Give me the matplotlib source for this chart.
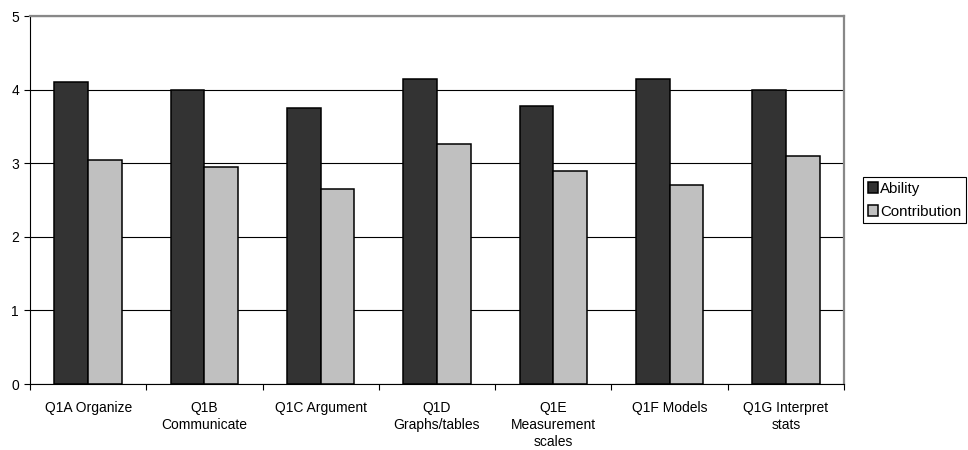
import matplotlib
matplotlib.use("Agg")
import matplotlib.pyplot as plt
import numpy as np

plt.rcParams['font.family'] = ['Liberation Sans', 'DejaVu Sans']

categories = ["Q1A Organize", "Q1B\nCommunicate", "Q1C Argument", "Q1D\nGraphs/tables",
              "Q1E\nMeasurement\nscales", "Q1F Models", "Q1G Interpret\nstats"]
ability = [4.1, 4.0, 3.75, 4.15, 3.78, 4.15, 4.0]
contribution = [3.05, 2.95, 2.65, 3.26, 2.89, 2.7, 3.1]
series_names = ["Ability", "Contribution"]
y_ticks = [0, 1, 2, 3, 4, 5]

fig = plt.figure(figsize=(9.68, 4.5), dpi=100)
ax = fig.add_axes([30/968, 1-384/450, (844-30)/968, (384-16)/450])

x = np.arange(len(categories))
w = 0.29
ax.bar(x - w/2, ability, w, color="#333333", edgecolor="black", linewidth=1.1, label=series_names[0], zorder=3)
ax.bar(x + w/2, contribution, w, color="#C0C0C0", edgecolor="black", linewidth=1.1, label=series_names[1], zorder=3)

ax.set_xlim(-0.5, len(categories) - 0.5)
ax.set_ylim(0, 5)
ax.set_yticks(y_ticks)
ax.set_yticklabels([str(t) for t in y_ticks], fontsize=10)
ax.yaxis.grid(True, color="black", linewidth=0.8, zorder=0)
ax.tick_params(axis='y', direction='out', length=4, width=0.8, pad=4)

ax.set_xticks(x)
ax.set_xticklabels(categories, fontsize=10, linespacing=1.3)
ax.tick_params(axis='x', length=0, pad=12)
ax.set_xticks(np.arange(len(categories) + 1) - 0.5, minor=True)
ax.tick_params(axis='x', which='minor', direction='out', length=4, width=0.8)

for s in ['top', 'right']:
    ax.spines[s].set_color("#888888")
    ax.spines[s].set_linewidth(1.6)
for s in ['left', 'bottom']:
    ax.spines[s].set_color("black")
    ax.spines[s].set_linewidth(0.8)

leg = fig.legend(loc='upper left', bbox_to_anchor=(863/968, 1-177/450), borderaxespad=0,
                 fontsize=10.8, frameon=True, fancybox=False, edgecolor="black", framealpha=1,
                 handlelength=0.7, handleheight=0.7, handletextpad=0.15, borderpad=0.3,
                 labelspacing=0.6)
leg.get_frame().set_linewidth(0.8)

fig.savefig("out.png", dpi=100)
